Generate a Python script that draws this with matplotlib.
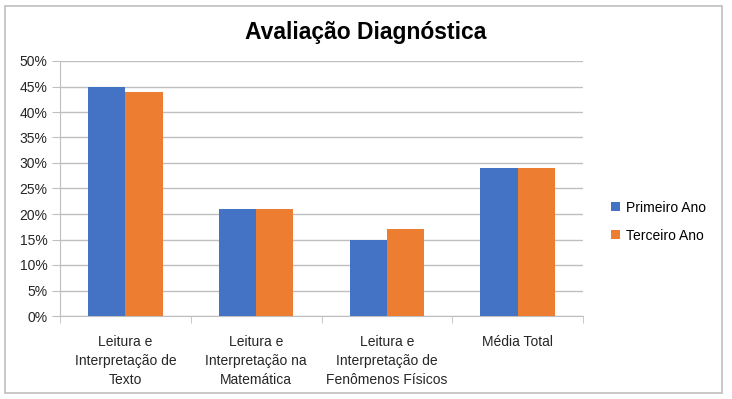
import matplotlib.pyplot as plt
import matplotlib.ticker as ticker
from matplotlib.patches import Rectangle
import numpy as np

# Dados
categorias = [
    "Leitura e\nInterpretação de\nTexto",
    "Leitura e\nInterpretação na\nMatemática",
    "Leitura e\nInterpretação de\nFenômenos Físicos",
    "Média Total",
]
primeiro_ano = [0.45, 0.21, 0.15, 0.29]
terceiro_ano = [0.44, 0.21, 0.17, 0.29]
series = ["Primeiro Ano", "Terceiro Ano"]

AZUL = "#4472C4"
LARANJA = "#ED7D31"
CINZA = "#BFBFBF"

plt.rcParams["font.family"] = ["Liberation Sans", "DejaVu Sans"]

fig = plt.figure(figsize=(7.32, 3.99), dpi=100)
ax = fig.add_axes([60 / 732, 83 / 399, 523 / 732, 255 / 399])

# moldura externa do gráfico
fig.patches.append(
    Rectangle((5 / 732, 6 / 399), 717 / 732, 387 / 399,
              transform=fig.transFigure, fill=False,
              edgecolor="#BFBFBF", linewidth=1.2)
)

x = np.arange(len(categorias))
largura = 0.285
ax.bar(x - largura / 2, primeiro_ano, largura, color=AZUL, label=series[0], zorder=3)
ax.bar(x + largura / 2, terceiro_ano, largura, color=LARANJA, label=series[1], zorder=3)

ax.set_xlim(-0.5, len(categorias) - 0.5)
ax.set_ylim(0, 0.5)
ax.yaxis.set_major_locator(ticker.MultipleLocator(0.05))
ax.yaxis.set_major_formatter(ticker.FuncFormatter(lambda v, p: f"{v * 100:.0f}%"))
ax.grid(axis="y", color=CINZA, linewidth=1, zorder=0)

# eixo x: rótulos nas categorias, marcas nos limites
ax.set_xticks(x)
ax.set_xticklabels(categorias, fontsize=10, color="#262626", linespacing=1.45)
ax.set_xticks(np.arange(-0.5, len(categorias)), minor=True)
ax.tick_params(axis="x", which="major", length=0, pad=14)
ax.tick_params(axis="x", which="minor", length=5, color=CINZA, direction="out")
ax.tick_params(axis="y", length=6, color=CINZA, labelsize=10, labelcolor="#262626", pad=3)

for lado in ["top", "right"]:
    ax.spines[lado].set_visible(False)
ax.spines["left"].set_color(CINZA)
ax.spines["bottom"].set_color(CINZA)

fig.text(366 / 732, 1 - 32 / 399, "Avaliação Diagnóstica", ha="center", va="center",
         fontsize=16.5, fontweight="bold", color="black")

ax.legend(loc="center left", bbox_to_anchor=(1.03, 0.37), frameon=False,
          fontsize=10, handlelength=0.6, handleheight=0.6, handletextpad=0.5,
          labelspacing=1.0)

fig.savefig("out.png", dpi=100)
